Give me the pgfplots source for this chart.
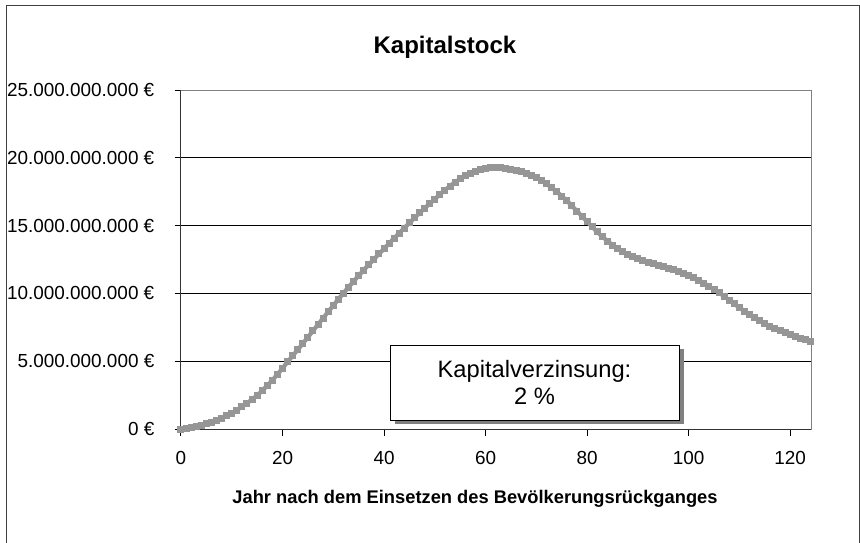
\documentclass[border=0pt]{standalone}
\usepackage{fontspec}
\setmainfont{Liberation Sans}
\usepackage{pgfplots}
\usepackage{pgfplotstable}
\pgfplotsset{compat=1.18}
\usetikzlibrary{shadows}
\definecolor{curve}{HTML}{969696}
\definecolor{framegray}{HTML}{808080}

\pgfplotstableread{
t v
0 0
1 0.03
2 0.08
3 0.16
4 0.27
5 0.38
6 0.5
7 0.64
8 0.8
9 0.98
10 1.18
11 1.4
12 1.64
13 1.9
14 2.18
15 2.48
16 2.82
17 3.2
18 3.6
19 4.03
20 4.48
21 4.95
22 5.4
23 5.85
24 6.3
25 6.77
26 7.24
27 7.71
28 8.18
29 8.65
30 9.11
31 9.57
32 10.02
33 10.46
34 10.89
35 11.31
36 11.72
37 12.12
38 12.52
39 12.91
40 13.3
41 13.69
42 14.07
43 14.45
44 14.82
45 15.2
46 15.57
47 15.93
48 16.28
49 16.62
50 16.95
51 17.3
52 17.62
53 17.92
54 18.2
55 18.45
56 18.66
57 18.84
58 19.0
59 19.12
60 19.21
61 19.27
62 19.3
63 19.29
64 19.24
65 19.16
66 19.07
67 18.97
68 18.86
69 18.72
70 18.54
71 18.32
72 18.07
73 17.8
74 17.5
75 17.18
76 16.83
77 16.46
78 16.07
79 15.68
80 15.29
81 14.9
82 14.53
83 14.18
84 13.86
85 13.56
86 13.3
87 13.07
88 12.87
89 12.7
90 12.55
91 12.42
92 12.3
93 12.19
94 12.08
95 11.97
96 11.86
97 11.74
98 11.61
99 11.47
100 11.32
101 11.15
102 10.96
103 10.76
104 10.53
105 10.27
106 10.05
107 9.78
108 9.5
109 9.22
110 8.95
111 8.69
112 8.44
113 8.2
114 7.98
115 7.77
116 7.58
117 7.4
118 7.24
119 7.09
120 6.95
121 6.82
122 6.69
123 6.57
124 6.45
}\capdata

\begin{document}
\begin{tikzpicture}[x=1pt,y=1pt]
\useasboundingbox (0,0) rectangle (860,542);
\fill[white] (0,0) rectangle (860,542);
\draw[line width=1pt, color=black!75] (6.5,-5) -- (6.5,536.5) -- (859,536.5) -- (859,-5);
\begin{axis}[
  at={(181pt,113pt)}, anchor=south west,
  width=630pt, height=339pt, scale only axis,
  xmin=0, xmax=124.1, ymin=0, ymax=25,
  xtick={0,20,...,120},
  ytick={0,5,...,25},
  yticklabels={{0 €},{5.000.000.000 €},{10.000.000.000 €},{15.000.000.000 €},{20.000.000.000 €},{25.000.000.000 €}},
  /pgf/number format/assume math mode=true,
  tick align=outside,
  xtick pos=bottom, ytick pos=left,
  major tick length=6.5pt,
  tick style={black, line width=1pt},
  ymajorgrids, grid style={black, line width=1pt},
  axis line style={color=framegray, line width=1pt},
  ticklabel style={font=\fontsize{18.9}{22}\selectfont},
  yticklabel style={inner sep=0pt, anchor=east, xshift=-20pt},
  xticklabel style={inner sep=0pt, anchor=north, yshift=-16pt},
  clip=false,
  title={Kapitalstock},
  title style={font=\bfseries\fontsize{24}{28}\selectfont, at={(axis description cs:0.419,1.109)}, anchor=center, inner sep=0pt},
  xlabel={Jahr nach dem Einsetzen des Bevölkerungsrückganges},
  xlabel style={font=\bfseries\fontsize{18.3}{22}\selectfont, at={(axis description cs:0.4667,-0.2066)}, anchor=center, inner sep=0pt},
]
\draw[black!80, line width=1pt] (rel axis cs:0,1) -- (rel axis cs:0,0) -- (rel axis cs:1,0);
\addplot[color=curve, line width=4.2pt, mark=square*, mark size=3pt, mark options={solid, fill=curve, draw=curve, line width=0pt}] table[x=t,y=v]{\capdata};
\end{axis}
\node[draw=black, line width=1pt, fill=white, minimum width=289pt, minimum height=75pt, align=center,
  font=\fontsize{23.7}{26.3}\selectfont,
  drop shadow={shadow xshift=5pt, shadow yshift=-4pt, fill=framegray, opacity=1}]
  at (534.5,159.5) {Kapitalverzinsung:\\2 \%};
\end{tikzpicture}
\end{document}
